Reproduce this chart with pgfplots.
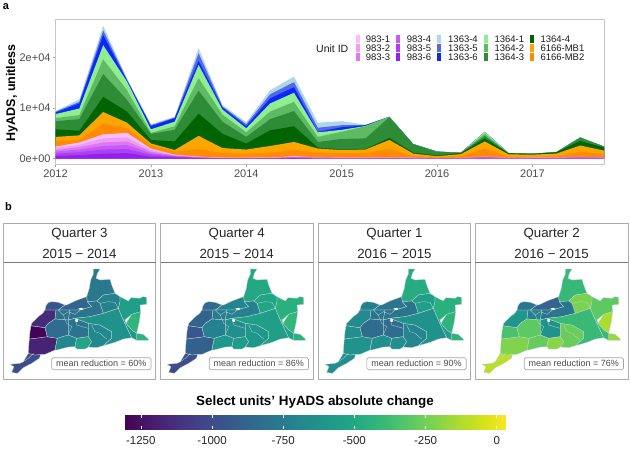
\documentclass[border=0pt]{standalone}
\usepackage{fontspec}
\setmainfont{Liberation Sans}
\usepackage{pgfplots}
\usepackage{pgfplotstable}
\pgfplotsset{compat=1.18}
\definecolor{cAa}{HTML}{FFBBFF}\definecolor{cAb}{HTML}{EE9CF4}\definecolor{cAc}{HTML}{DC78F2}
\definecolor{cAd}{HTML}{C45CF2}\definecolor{cAe}{HTML}{AC40F2}\definecolor{cAf}{HTML}{9420F0}
\definecolor{cBd}{HTML}{ADD8E6}\definecolor{cBe}{HTML}{5468EE}\definecolor{cBf}{HTML}{0A28FA}
\definecolor{cCa}{HTML}{90EE90}\definecolor{cCb}{HTML}{5EBB63}\definecolor{cCc}{HTML}{2E8B36}\definecolor{cCd}{HTML}{006400}
\definecolor{cMa}{HTML}{FFA500}\definecolor{cMb}{HTML}{FF8C00}
\definecolor{mapedge}{HTML}{BFD8D8}
\definecolor{txt}{gray}{0.3}
% cumulative upper edge of each band of the stack
\pgfplotstableread{
t a6 a5 a4 a3 a2 a1 m2 m1 g4 g3 g2 g1 b6 b5 b4
2012.00 550 1000 1400 1700 2050 2400 3500 4300 5800 7400 8000 8800 9100 9250 9400
2012.25 700 1300 1800 2300 2750 3200 3700 4600 5500 7800 8600 9900 10900 11200 11700
2012.50 1000 1800 2500 3200 4000 4800 6900 9200 12200 16700 19600 22400 24400 25300 26200
2012.75 1100 1900 2700 3400 4200 5100 6000 7100 9300 11600 13500 15200 15400 15600 15800
2013.00 400 800 1100 1400 1700 2000 2700 3000 3700 4900 5100 5800 6400 6600 6800
2013.25 250 400 500 600 700 800 1400 1700 3400 5700 6400 7300 8000 8100 8300
2013.50 100 180 250 300 350 400 1900 4500 8900 13400 15900 18500 19300 20800 21800
2013.75 40 80 110 140 170 200 1100 2100 4900 7300 8700 9700 10100 10300 10600
2014.00 40 80 110 140 170 200 1000 1800 3000 4300 5200 6000 6400 6800 7200
2014.25 40 80 110 140 170 200 1200 2500 5600 7800 9300 10900 11900 12700 13500
2014.50 100 200 280 350 420 500 1700 3300 6400 9400 11200 13000 14100 15100 16200
2014.75 20 50 210 225 240 250 1200 2000 2200 3300 4300 5200 5300 6100 7100
2015.00 20 40 170 180 190 200 1100 1700 1800 3900 5300 5700 6200 6600 7400
2015.25 20 40 170 180 190 200 1100 1800 1900 4000 6400 6450 6600 6650 6700
2015.50 20 40 170 180 190 200 2000 3700 4100 8200 8220 8240 8260 8280 8300
2015.75 20 40 170 180 190 200 500 1000 1200 2880 2885 2890 2895 2898 2900
2016.00 10 20 85 90 95 100 350 500 650 1380 1385 1390 1395 1398 1400
2016.25 15 30 125 135 140 150 500 900 1100 1180 1185 1190 1195 1198 1200
2016.50 40 80 340 360 380 400 2000 3400 4000 4500 4900 5300 5300 5300 5300
2016.75 15 30 125 135 140 150 400 850 1050 1080 1085 1090 1095 1098 1100
2017.00 20 40 170 180 190 200 400 800 950 980 985 990 995 998 1000
2017.25 20 40 170 180 190 200 500 1000 1250 1280 1285 1290 1295 1298 1300
2017.50 35 70 300 320 335 350 1400 2600 3500 4150 4180 4190 4195 4198 4200
2017.75 25 50 210 225 240 250 900 1600 2200 2380 2385 2390 2395 2398 2400
}\stacktab
\newcommand\band[2]{\addplot[fill=#1,draw=none] table[x=t,y=#2]{\stacktab} -- (axis cs:2017.75,0) -- (axis cs:2012,0) -- cycle;}
\newcommand\reg[2]{\pgfmathsetmacro\cv{(#1+1308)/1343*1000}\edef\tmp{\noexpand\addplot[color of colormap=\cv,fill=.,draw=none] coordinates {#2} -- cycle;}\tmp
 \addplot[draw=mapedge,fill=none,line width=.3pt] coordinates {#2} -- cycle;}
\newcommand\regA[1]{\reg{#1}{(122,478)(118,490)(95,505)(70,518)(52,535)(35,532)(42,515)(30,508)(60,505)(70,500)(85,475)(105,480)}}
\newcommand\regB[1]{\reg{#1}{(85,475)(86,455)(88,432)(142,425)(172,430)(165,465)(135,478)(122,478)(105,480)}}
\newcommand\regC[1]{\reg{#1}{(93,392)(135,398)(142,425)(88,432)(90,410)}}
\newcommand\regD[1]{\reg{#1}{(95,385)(115,365)(128,355)(135,345)(168,345)(165,372)(145,385)(135,398)(93,392)}}
\newcommand\regE[1]{\reg{#1}{(135,345)(138,332)(145,323)(155,320)(175,322)(195,330)(175,345)(168,345)}}
\newcommand\regF[1]{\reg{#1}{(195,330)(200,330)(225,318)(260,305)(262,320)(275,335)(240,345)(210,345)(175,345)}}
\newcommand\regG[1]{\reg{#1}{(280,222)(300,222)(292,235)(288,250)(300,255)(330,253)(335,270)(345,295)(310,300)(290,318)(262,320)(260,305)(268,280)(272,255)(280,238)}}
\newcommand\regH[1]{\reg{#1}{(345,295)(360,305)(360,320)(355,340)(310,355)(300,325)(290,318)(310,300)}}
\newcommand\regI[1]{\reg{#1}{(168,345)(210,345)(205,375)(165,372)}}
\newcommand\regJ[1]{\reg{#1}{(210,345)(240,345)(275,335)(262,320)(290,318)(300,325)(310,355)(270,365)(225,370)(205,375)}}
\newcommand\regK[1]{\reg{#1}{(145,385)(165,372)(205,375)(205,420)(172,430)(142,425)(135,398)}}
\newcommand\regL[1]{\reg{#1}{(205,375)(225,370)(265,385)(265,425)(230,430)(205,420)}}
\newcommand\regM[1]{\reg{#1}{(172,430)(205,420)(230,430)(225,455)(205,456)(170,465)(165,465)}}
\newcommand\regN[1]{\reg{#1}{(230,430)(265,425)(275,440)(265,456)(255,462)(230,462)(225,455)}}
\newcommand\regO[1]{\reg{#1}{(265,385)(300,390)(335,410)(335,430)(310,452)(290,458)(265,456)(275,440)(265,425)}}
\newcommand\regP[1]{\reg{#1}{(225,370)(270,365)(310,355)(355,340)(370,375)(395,428)(370,432)(345,442)(310,452)(335,430)(335,410)(300,390)(265,385)}}
\newcommand\regQ[1]{\reg{#1}{(360,305)(385,318)(393,308)(420,310)(428,305)(440,307)(440,328)(420,330)(422,350)(395,358)(375,375)(370,375)(355,340)(360,320)}}
\newcommand\regR[1]{\reg{#1}{(422,350)(418,380)(410,415)(395,405)(378,385)(395,358)}}
\newcommand\regS[1]{\reg{#1}{(410,415)(430,418)(445,432)(445,436)(410,436)}}
\newcommand\regT[1]{\reg{#1}{(370,375)(375,375)(378,385)(395,405)(410,415)(410,436)(395,428)}}
\newcommand\mapextras{%
\addplot[draw=mapedge,line width=.3pt] coordinates {(175,345)(190,360)(205,350)(225,358)(240,345)};
\addplot[draw=mapedge,line width=.3pt] coordinates {(190,360)(200,385)(215,395)(205,420)};
\addplot[draw=mapedge,line width=.3pt] coordinates {(225,370)(230,390)(265,400)};
\addplot[draw=mapedge,line width=.3pt] coordinates {(300,325)(325,320)(345,322)(355,340)};
\addplot[draw=mapedge,line width=.3pt] coordinates {(275,390)(285,410)(300,415)(320,432)};
\addplot[draw=mapedge,line width=.3pt] coordinates {(100,475)(85,490)(65,503)};
\addplot[fill=white,draw=white,line width=.2pt] coordinates {(236,341)(244,339)(250,342)(243,345)} -- cycle;
\addplot[fill=white,draw=white,line width=.2pt] coordinates {(226,374)(232,372)(234,379)(228,381)} -- cycle;
}
\newcommand\mapaxis[2]{%
\begin{axis}[scale only axis,width=160pt,height=120pt,at={(#1pt,66.33pt)},anchor=south west,
 hide axis,xmin=0,xmax=480,ymin=200,ymax=560,y dir=reverse,clip=false,colormap/viridis]
#2
\mapextras
\end{axis}}
\newcommand\panel[5]{% left, right, q, years, reduction
 \draw[gray!65,line width=.8pt] (#1,69) rectangle (#2,225);
 \draw[gray!95!black,line width=.8pt] (#1,185.3) -- (#2,185.3);
 \node[font=\fontsize{13.3}{13}\selectfont,text=black!85] at ({(#1+#2)/2},214) {#3};
 \node[font=\fontsize{13.3}{13}\selectfont,text=black!85] at ({(#1+#2)/2},189.5) [anchor=base] {#4};
 \node[draw=gray!70,fill=white,rounded corners=1.5pt,line width=.6pt,inner sep=0pt,minimum width=99.3pt,minimum height=12pt,
  font=\fontsize{9}{9}\selectfont,text=txt] at ({#2-4.5-49.65},84.3) {#5};
}
\begin{document}
\begin{tikzpicture}[x=1pt,y=1pt]
\path[use as bounding box] (0,0) rectangle (630,448);
\begin{axis}[scale only axis,width=548.5pt,height=146pt,at={(55.5pt,283pt)},anchor=south west,
 xmin=2012,xmax=2017.75,ymin=-1243,ymax=27555,scaled y ticks=false,
 axis line style={draw=gray!45,line width=1pt},
 xtick={2012,2013,2014,2015,2016,2017},xticklabels={2012,2013,2014,2015,2016,2017},
 ytick={0,10000,20000},yticklabels={0e+00,1e+04,2e+04},
 tick pos=left,tick align=outside,major tick length=2.5pt,tick style={draw=gray!70,line width=.6pt},
 ticklabel style={font=\fontsize{11}{11}\selectfont,text=txt},
 xticklabel style={yshift=1pt},yticklabel style={xshift=1pt}]
\band{cBd}{b4}\band{cBe}{b5}\band{cBf}{b6}
\band{cCa}{g1}\band{cCb}{g2}\band{cCc}{g3}\band{cCd}{g4}
\band{cMa}{m1}\band{cMb}{m2}
\band{cAa}{a1}\band{cAb}{a2}\band{cAc}{a3}\band{cAd}{a4}\band{cAe}{a5}\band{cAf}{a6}
\end{axis}
\node[rotate=90,font=\bfseries\fontsize{12.5}{13}\selectfont] at (12,355) {HyADS, unitless};
\node[font=\bfseries\fontsize{11}{11}\selectfont] at (6,441.5) {a};
\node[font=\bfseries\fontsize{11}{11}\selectfont] at (8.5,241.5) {b};
% legend
\node[font=\fontsize{10.5}{10}\selectfont,text=black!90,anchor=west,inner sep=0pt] at (316,399.7) {Unit ID};
\foreach \sx/\tx/\nm/\cl [count=\i] in {
 357.7/365.7/983-1/cAa,357.7/365.7/983-2/cAb,357.7/365.7/983-3/cAc,
 398.3/406.7/983-4/cAd,398.3/406.7/983-5/cAe,398.3/406.7/983-6/cAf,
 439.3/448/1363-4/cBd,439.3/448/1363-5/cBe,439.3/448/1363-6/cBf,
 485.7/494.3/1364-1/cCa,485.7/494.3/1364-2/cCb,485.7/494.3/1364-3/cCc,
 532/540.3/1364-4/cCd,532/540.3/6166-MB1/cMa,532/540.3/6166-MB2/cMb}{
 \pgfmathsetmacro\yy{409-9.15*mod(\i-1,3)}
 \fill[\cl] (\sx-2,\yy-4) rectangle (\sx+2,\yy+4);
 \node[anchor=west,inner sep=0pt,font=\fontsize{9.5}{9.5}\selectfont,text=black!90] at (\tx,\yy) {\nm};
}
% facet panels
\panel{3.5}{155.5}{Quarter 3}{2015 − 2014}{mean reduction = 60\%}
\panel{160.5}{313}{Quarter 4}{2015 − 2014}{mean reduction = 86\%}
\panel{318.3}{470.7}{Quarter 1}{2016 − 2015}{mean reduction = 90\%}
\panel{475.3}{628}{Quarter 2}{2016 − 2015}{mean reduction = 76\%}
\mapaxis{0}{\regA{-1000}\regB{-1180}\regC{-1300}\regD{-1150}\regE{-950}\regF{-880}\regG{-770}\regH{-720}\regI{-800}\regJ{-800}\regK{-830}\regL{-800}\regM{-680}\regN{-520}\regO{-680}\regP{-630}\regQ{-560}\regR{-430}\regS{-430}\regT{-600}}
\mapaxis{157}{\regA{-1000}\regB{-900}\regC{-945}\regD{-880}\regE{-850}\regF{-700}\regG{-500}\regH{-520}\regI{-750}\regJ{-720}\regK{-720}\regL{-650}\regM{-600}\regN{-570}\regO{-600}\regP{-560}\regQ{-460}\regR{-420}\regS{-450}\regT{-540}}
\mapaxis{315}{\regA{-650}\regB{-620}\regC{-650}\regD{-670}\regE{-730}\regF{-790}\regG{-480}\regH{-550}\regI{-780}\regJ{-800}\regK{-840}\regL{-840}\regM{-650}\regN{-650}\regO{-700}\regP{-630}\regQ{-460}\regR{-440}\regS{-440}\regT{-560}}
\mapaxis{472}{\regA{-100}\regB{-220}\regC{-350}\regD{-600}\regE{-780}\regF{-880}\regG{-410}\regH{-230}\regI{-720}\regJ{-780}\regK{-300}\regL{-620}\regM{-280}\regN{-200}\regO{-270}\regP{-400}\regQ{-300}\regR{-130}\regS{-170}\regT{-400}}
% colour bar
\node[font=\bfseries\fontsize{13.4}{13}\selectfont] at (315,46) {Select units' HyADS absolute change};
\begin{axis}[scale only axis,width=382.4pt,height=14.3pt,at={(124.3pt,19pt)},anchor=south west,
 xmin=-1308,xmax=35,ymin=0,ymax=1,view={0}{90},colormap/viridis,point meta min=-1308,point meta max=35,
 axis line style={draw=none},ytick=\empty,
 xtick={-1250,-1000,-750,-500,-250,0},xticklabels={-1250,-1000,-750,-500,-250,0},
 tick align=inside,major tick length=2.8pt,xtick pos=both,tick style={draw=white,line width=.5pt},
 xticklabel pos=lower,
 xticklabel style={font=\fontsize{11.5}{11.5}\selectfont,text=black!85,yshift=-3.5pt},
 axis on top]
\addplot3[surf,shader=interp,mesh/rows=2,point meta=x] coordinates {
(-1308,0,0)(-1200,0,0)(-1100,0,0)(-1000,0,0)(-900,0,0)(-800,0,0)(-700,0,0)(-600,0,0)(-500,0,0)(-400,0,0)(-300,0,0)(-200,0,0)(-100,0,0)(0,0,0)(35,0,0)
(-1308,1,0)(-1200,1,0)(-1100,1,0)(-1000,1,0)(-900,1,0)(-800,1,0)(-700,1,0)(-600,1,0)(-500,1,0)(-400,1,0)(-300,1,0)(-200,1,0)(-100,1,0)(0,1,0)(35,1,0)
};
\end{axis}
\end{tikzpicture}
\end{document}
